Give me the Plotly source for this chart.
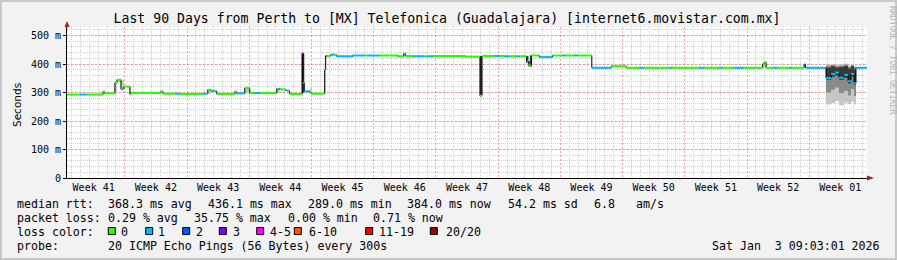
import pandas as pd
import plotly.graph_objects as go

# ---------------- data ----------------
graph_start = pd.Timestamp("2025-10-05 12:00")
graph_end = pd.Timestamp("2026-01-03 12:00")
end_day = 90.0

# start of each median step (days after graph_start)
seg_day = [0.00, 1.46, 2.25, 4.04, 4.27, 5.39, 5.62, 6.07, 6.40, 7.08,
           7.19, 10.56, 10.79, 12.25, 12.70, 15.28, 15.73, 15.84, 16.18, 16.63,
           16.85, 18.88, 19.10, 20.00, 20.56, 21.12, 21.69, 23.60, 23.93, 24.61,
           24.94, 25.06, 26.44, 26.55, 26.69, 27.30, 27.53, 28.99, 29.10, 29.21,
           29.66, 30.11, 30.34, 32.13, 33.48, 33.82, 35.17, 37.19, 37.87, 38.09,
           38.88, 40.22, 40.56, 41.12, 44.83, 46.46, 46.69, 48.09, 48.65, 49.21,
           49.78, 50.56, 50.90, 51.69, 51.91, 52.08, 52.25, 53.15, 54.61, 55.73,
           56.07, 57.08, 57.42, 59.04, 61.24, 62.92, 64.38, 64.83, 67.75, 68.09,
           71.12, 71.69, 73.37, 73.71, 75.06, 76.18, 78.26, 78.43, 78.65, 79.55,
           79.89, 81.24, 81.57, 82.92, 83.09, 85.39, 85.96, 86.40, 86.85, 87.42,
           87.87, 88.20, 88.54, 88.76]

# median rtt (ms) for each step
seg_median = [293, 293, 293, 303, 297, 335, 345, 312, 321, 294,
              299, 304, 296, 296, 295, 296, 296, 310, 306, 306,
              295, 303, 297, 316, 298, 298, 298, 313, 311, 307,
              305, 295, 438, 334, 304, 300, 296, 380, 428, 428,
              433, 432, 427, 430, 430, 430, 430, 427, 436, 428,
              427, 427, 427, 428, 426, 289, 428, 428, 428, 427,
              427, 427, 427, 408, 398, 394, 430, 424, 430, 430,
              430, 430, 430, 387, 392, 387, 387, 387, 387, 387,
              387, 387, 387, 387, 387, 387, 400, 406, 387, 387,
              387, 387, 387, 398, 387, 351, 365, 370, 352, 362,
              340, 365, 333, 387]

# loss class index of each step (into loss_labels)
seg_loss = [0, 1, 0, 0, 0, 0, 0, 1, 0, 0,
            0, 0, 0, 1, 0, 1, 0, 0, 1, 0,
            0, 0, 1, 0, 0, 1, 0, 1, 0, 1,
            0, 0, 4, 1, 1, 0, 0, 1, 6, 0,
            1, 0, 1, 1, 0, 1, 0, 0, 1, 0,
            1, 0, 1, 0, 0, 0, 0, 1, 0, 1,
            0, 1, 0, 1, 0, 0, 0, 1, 0, 1,
            0, 1, 0, 1, 0, 0, 1, 0, 1, 0,
            1, 0, 1, 0, 1, 0, 0, 0, 0, 1,
            0, 1, 0, 2, 1, 1, 1, 1, 1, 1,
            1, 1, 1, 1]

# smoke (full ping spread) for steps with visible spread
smoke_seg = [3, 5, 6, 7, 9, 17, 21, 23, 27, 32, 33, 35, 37, 48, 55,
             63, 64, 65, 86, 87, 93, 95, 96, 97, 98, 99, 100, 101, 102]
smoke_lo = [293, 297, 335, 310, 294, 296, 295, 297, 298, 295, 300, 296, 296, 427, 287,
            404, 392, 390, 387, 387, 387, 258, 262, 270, 255, 265, 260, 268, 258]
smoke_hi = [306, 338, 347, 345, 321, 312, 305, 318, 314, 440, 438, 314, 427, 438, 428,
            428, 410, 430, 404, 408, 400, 398, 400, 396, 398, 402, 395, 400, 392]

# middle part of the spread (noisy period)
core_seg = [95, 96, 97, 98, 99, 100, 101, 102]
core_lo = [300, 310, 318, 298, 306, 290, 312, 288]
core_hi = [394, 397, 393, 395, 398, 390, 397, 388]

# dense spread around the short spikes
dense_seg = [32, 33, 55, 63, 64, 65, 95, 96, 97, 98, 99, 100, 101, 102]
dense_lo = [295, 300, 287, 404, 392, 390, 345, 355, 360, 345, 352, 332, 356, 326]
dense_hi = [440, 438, 428, 428, 410, 430, 388, 392, 388, 390, 393, 384, 392, 380]

loss_labels = ["0", "1", "2", "3", "4-5", "6-10", "11-19", "20/20"]
loss_colors = ["#26ff00", "#00b8ff", "#0059ff", "#7e00ff",
               "#ff00ff", "#ff5500", "#ff0000", "#a00000"]

week_starts = ["2025-10-05", "2025-10-12", "2025-10-19", "2025-10-26", "2025-11-02",
               "2025-11-09", "2025-11-16", "2025-11-23", "2025-11-30", "2025-12-07",
               "2025-12-14", "2025-12-21", "2025-12-28"]
week_labels = ["Week 41", "Week 42", "Week 43", "Week 44", "Week 45", "Week 46",
               "Week 47", "Week 48", "Week 49", "Week 50", "Week 51", "Week 52", "Week 01"]

y_tickvals = [0, 100, 200, 300, 400, 500]
y_ticktext = ["0", "100 m", "200 m", "300 m", "400 m", "500 m"]

title_text = "Last 90 Days from Perth to [MX] Telefonica (Guadalajara) [internet6.movistar.com.mx]"
stats_rtt = ["median rtt:", "368.3 ms avg", "436.1 ms max", "289.0 ms min",
             "384.0 ms now", "54.2 ms sd", "6.8", "am/s"]
stats_loss = ["packet loss:", "0.29 % avg", "35.75 % max", "0.00 % min", "0.71 % now"]
probe_text = ["probe:", "20 ICMP Echo Pings (56 Bytes) every 300s"]
date_text = "Sat Jan  3 09:03:01 2026"

# ---------------- build ----------------
MONO = "DejaVu Sans Mono"
W, H = 897, 260
L, R, T, B = 67, 30, 27, 82
PW, PH = W - L - R, H - T - B


def px(x):
    return (x - L) / PW


def py(y):
    return (H - B - y) / PH


n = len(seg_day)
t = [graph_start + pd.Timedelta(days=d) for d in seg_day] + [graph_start + pd.Timedelta(days=end_day)]


def band(idx, lo, hi):
    blo = list(seg_median)
    bhi = list(seg_median)
    for i, a, b in zip(idx, lo, hi):
        blo[i] = a
        bhi[i] = b
    return blo + [blo[-1]], bhi + [bhi[-1]]


fig = go.Figure()

for idx, lo, hi, col in [(smoke_seg, smoke_lo, smoke_hi, "#c6c6c6"),
                         (core_seg, core_lo, core_hi, "#8a8a8a"),
                         (dense_seg, dense_lo, dense_hi, "#3a3a3a")]:
    blo, bhi = band(idx, lo, hi)
    fig.add_trace(go.Scatter(x=t, y=blo, mode="lines", line=dict(width=0, shape="hv"),
                             hoverinfo="skip"))
    fig.add_trace(go.Scatter(x=t, y=bhi, mode="lines", line=dict(width=0, shape="hv"),
                             fill="tonexty", fillcolor=col, hoverinfo="skip"))

# black step line (vertical transitions)
fig.add_trace(go.Scatter(x=t, y=seg_median + [seg_median[-1]], mode="lines",
                         line=dict(color="#000000", width=1, shape="hv"), hoverinfo="skip"))

# coloured median by loss
for k, col in enumerate(loss_colors):
    xs, ys = [], []
    for i in range(n):
        if seg_loss[i] == k:
            xs += [t[i], t[i + 1], None]
            ys += [seg_median[i], seg_median[i], None]
    if xs:
        fig.add_trace(go.Scatter(x=xs, y=ys, mode="lines", line=dict(color=col, width=2),
                                 name=loss_labels[k], hoverinfo="skip"))

# week label positions (middle of each week)
label_pos = [pd.Timestamp(w) + pd.Timedelta(days=3.5) for w in week_starts]
fig.add_trace(go.Scatter(x=label_pos, y=[0] * len(label_pos), xaxis="x2", mode="markers",
                         marker=dict(opacity=0), hoverinfo="skip"))

grid_red = "rgba(230,60,60,0.45)"
grid_gray = "#cfcfcf"

fig.update_layout(
    width=W, height=H,
    margin=dict(l=L, r=R, t=T, b=B, pad=0),
    paper_bgcolor="#f2f2f2", plot_bgcolor="#ffffff",
    showlegend=False,
    font=dict(family=MONO, size=10, color="#000000"),
    title=dict(text=title_text, x=447 / W, xanchor="center", y=1 - 18 / H, yanchor="middle",
               font=dict(family=MONO, size=13.2, color="#000000")),
    xaxis=dict(type="date", range=[graph_start, graph_end], tickmode="linear",
               tick0="2025-10-12", dtick=7 * 86400000, showticklabels=False, ticks="",
               showgrid=True, gridcolor=grid_red, griddash="2px,2px", gridwidth=1,
               minor=dict(tick0="2025-10-12", dtick=86400000, showgrid=True,
                          gridcolor=grid_gray, griddash="1px,1px", gridwidth=1),
               showline=True, linecolor="#000000", linewidth=1, zeroline=False,
               fixedrange=True),
    xaxis2=dict(type="date", overlaying="x", range=[graph_start, graph_end], side="bottom",
                tickmode="array", tickvals=label_pos, ticktext=week_labels,
                showgrid=False, showline=False, ticks="", zeroline=False,
                ticklabelstandoff=2,
                tickfont=dict(family=MONO, size=10, color="#000000"), fixedrange=True),
    yaxis=dict(range=[0, 530], tickmode="array", tickvals=y_tickvals, ticktext=y_ticktext,
               showgrid=True, gridcolor=grid_red, griddash="2px,2px", gridwidth=1,
               minor=dict(tick0=0, dtick=20, showgrid=True, gridcolor=grid_gray,
                          griddash="1px,1px", gridwidth=1),
               showline=True, linecolor="#000000", linewidth=1, zeroline=False,
               ticks="outside", ticklen=3, tickcolor="#000000",
               tickfont=dict(family=MONO, size=10, color="#000000"), fixedrange=True),
)

ann = []


def text(x, y, s, size=11.6, anchor="left", color="#000000", angle=0, family=MONO):
    ann.append(dict(x=px(x), y=py(y), xref="paper", yref="paper", text=s, showarrow=False,
                    xanchor=anchor, yanchor="middle", textangle=angle, borderpad=0,
                    font=dict(family=family, size=size, color=color)))


for x, s in zip([16, 107.3, 207.3, 306.7, 406, 506.7, 593.3, 635], stats_rtt):
    text(x, 204, s)
for x, s in zip([16, 107.3, 193.3, 286.7, 372.3], stats_loss):
    text(x, 218.3, s)
text(16, 231.7, "loss color:")
sq_x = [108.3, 145.7, 182.7, 219.3, 256.7, 294.3, 365.7, 430.3]
lab_x = [119.5, 157.3, 195, 232.3, 268.5, 307.5, 378, 445]
shapes = []
for sx, lx, lab, col in zip(sq_x, lab_x, loss_labels, loss_colors):
    shapes.append(dict(type="rect", xref="paper", yref="paper", x0=px(sx), x1=px(sx + 7),
                       y0=py(234.5), y1=py(227.5), fillcolor=col,
                       line=dict(color="#000000", width=1)))
    text(lx, 231.7, lab)
text(16, 246.3, probe_text[0])
text(107.3, 246.3, probe_text[1])
text(881, 246.3, date_text, anchor="right")
text(10, 105, "Seconds", size=10.5, angle=-90, family="DejaVu Sans")
text(887, 61, "RRDTOOL / TOBI OETIKER", size=8.2, color="#b4b4b4", angle=90)

# axis arrows
shapes.append(dict(type="path", xref="paper", yref="paper",
                   path=f"M {px(867)} {py(175.5)} L {px(874)} {py(178)} L {px(867)} {py(180.5)} Z",
                   fillcolor="#a52020", line=dict(width=0)))
shapes.append(dict(type="path", xref="paper", yref="paper",
                   path=f"M {px(64.5)} {py(27)} L {px(67)} {py(21)} L {px(69.5)} {py(27)} Z",
                   fillcolor="#a52020", line=dict(width=0)))
# frame
shapes.append(dict(type="rect", xref="paper", yref="paper", x0=px(1), x1=px(896),
                   y0=py(259), y1=py(1), line=dict(color="#c8c8c8", width=2),
                   fillcolor="rgba(0,0,0,0)", layer="above"))

fig.update_layout(annotations=ann, shapes=shapes)

fig.write_html("out.html", config={"displayModeBar": False})
